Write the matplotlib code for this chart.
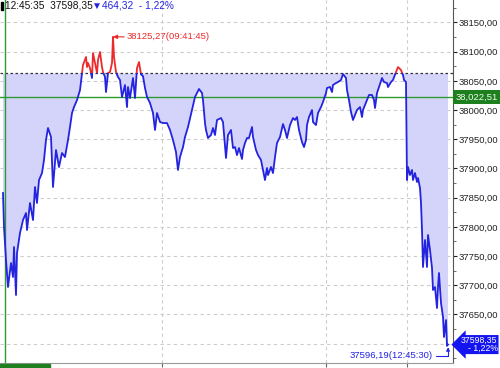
import numpy as np
import matplotlib.pyplot as plt
from matplotlib.patches import Rectangle

plt.rcParams['font.family'] = ['Liberation Sans', 'DejaVu Sans']

prev_close = 38062.67
ref_level = 38022.51
high_tick, high_price, high_time = 113, 38125.27, '09:41:45'
low_tick, low_price, low_time = 447, 37596.19, '12:45:30'
clock = '12:45:35'
last_price, change, change_pct = 37598.35, 464.32, -1.22
grid_ticks = [162, 326, 407]
price_levels = np.arange(37600, 38151, 50)

tick_no = [3, 4, 5, 6, 8, 11, 13, 14, 16, 17, 20, 23, 26, 27, 30, 33, 35, 37, 39, 42,
           44, 46, 48, 51, 53, 56, 59, 62, 65, 68, 70, 72, 74, 77, 80, 82, 83, 86, 87, 88,
           90, 92, 93, 95, 97, 98, 100, 102, 103, 105, 106, 108, 110, 112, 113, 114, 116, 118, 120, 122,
           125, 127, 128, 130, 133, 135, 137, 139, 141, 143, 145, 147, 150, 153, 155, 157, 160, 163, 167, 170,
           173, 176, 178, 180, 183, 185, 188, 192, 195, 199, 202, 203, 205, 206, 208, 211, 213, 215, 217, 221,
           223, 226, 228, 231, 233, 235, 237, 239, 242, 243, 245, 247, 249, 252, 253, 256, 258, 261, 263, 265,
           267, 268, 271, 273, 275, 277, 280, 283, 285, 287, 290, 293, 295, 297, 299, 302, 304, 306, 307, 309,
           312, 313, 316, 318, 321, 323, 326, 327, 330, 332, 333, 336, 338, 341, 343, 346, 347, 349, 351, 353,
           355, 357, 360, 362, 363, 365, 367, 369, 372, 374, 375, 377, 379, 382, 384, 387, 388, 391, 393, 396,
           398, 401, 403, 404, 406, 407, 408, 410, 412, 413, 415, 417, 418, 420, 421, 422, 423, 425, 427, 428,
           430, 432, 433, 435, 437, 438, 439, 441, 443, 444, 446, 447, 448]

price = [37857.9, 37799.7, 37772.3, 37743.2, 37696.9, 37738.0, 37714.0, 37765.4, 37683.2, 37755.1,
         37789.4, 37811.6, 37823.6, 37794.5, 37840.8, 37811.6, 37868.2, 37840.8, 37880.1, 37892.1,
         37914.4, 37948.6, 37969.2, 37953.8, 37868.2, 37931.5, 37902.4, 37926.4, 37919.5, 37948.6,
         37970.9, 37994.9, 38005.1, 38017.1, 38034.2, 38063.4, 38077.1, 38090.8, 38073.6, 38080.5,
         38071.9, 38054.8, 38097.6, 38080.5, 38063.4, 38085.6, 38099.3, 38073.6, 38065.1, 38056.5,
         38030.8, 38063.4, 38065.1, 38080.5, 38125.27, 38090.8, 38065.1, 38056.5, 38051.4, 38022.3,
         38042.8, 38005.1, 38039.4, 38020.5, 38054.8, 38020.5, 38071.9, 38082.2, 38061.0, 38058.0,
         38037.7, 38022.3, 38012.0, 37994.9, 37965.8, 37994.9, 37979.5, 37977.7, 37977.7, 37965.8,
         37948.6, 37928.1, 37897.3, 37919.5, 37936.6, 37953.8, 37970.9, 38000.0, 38022.3, 38036.0,
         38029.1, 38017.1, 37977.7, 37965.8, 37952.1, 37957.2, 37969.2, 37957.2, 37982.9, 37986.3,
         37979.5, 37917.8, 37957.2, 37965.8, 37934.9, 37936.6, 37922.9, 37934.9, 37916.1, 37931.5,
         37943.5, 37952.1, 37952.1, 37970.9, 37953.8, 37931.5, 37922.9, 37914.4, 37897.3, 37880.1,
         37900.7, 37888.7, 37902.4, 37892.1, 37919.5, 37943.5, 37953.8, 37976.0, 37965.8, 37952.1,
         37974.3, 37986.3, 37982.9, 37988.0, 37965.8, 37945.2, 37936.6, 37948.6, 37974.3, 37988.0,
         38000.0, 37979.5, 37974.3, 37994.9, 38005.1, 38013.7, 38029.1, 38037.7, 38039.4, 38030.8,
         38042.8, 38046.2, 38047.9, 38051.4, 38061.5, 38054.8, 38034.2, 38017.1, 37996.6, 37982.9,
         37991.4, 38000.0, 38005.1, 37988.0, 38000.0, 38008.6, 38017.1, 38025.7, 38025.7, 38017.1,
         38003.4, 38029.1, 38039.4, 38054.8, 38047.9, 38046.2, 38039.4, 38047.9, 38051.4, 38065.1,
         38073.6, 38068.5, 38059.9, 38051.4, 38047.9, 37880.1, 37902.4, 37888.7, 37897.3, 37880.1,
         37892.1, 37876.7, 37883.6, 37866.4, 37840.8, 37794.5, 37731.2, 37777.4, 37731.2, 37786.0,
         37760.3, 37729.5, 37691.8, 37696.9, 37661.0, 37696.9, 37720.9, 37669.5, 37645.6, 37611.3,
         37640.4, 37596.19, 37598.35]

BLUE = '#2323e0'
RED = '#ec2a2a'
GREEN = '#2e9a2e'


def fmt(v):
    return f'{v:.2f}'.replace('.', ',')


x = np.array(tick_no)
y = np.array(price)

fig = plt.figure(figsize=(5, 3.68), dpi=100)
ax = fig.add_axes([0, 5 / 368, 453 / 500, 363 / 368])
ax.set_xlim(0, 453)
ax.set_ylim(37566.8, 38188.4)

ax.fill_between(x, y, prev_close, where=y < prev_close, interpolate=True,
                color='#d4d4fa', lw=0, zorder=1)

# blue below previous close, red above it
below = Rectangle((-100, 37000), 1000, prev_close - 37000, transform=ax.transData)
above = Rectangle((-100, prev_close), 1000, 1000, transform=ax.transData)
l1, = ax.plot(x, y, color=BLUE, lw=1.3, zorder=4)
l1.set_clip_path(below)
l2, = ax.plot(x, y, color=RED, lw=1.3, zorder=4)
l2.set_clip_path(above)

ax.axhline(prev_close, color='#333333', ls=(0, (2, 2)), lw=0.9, zorder=3)
ax.axhline(ref_level, color=GREEN, lw=1.0, zorder=3)
ax.axvline(5, color=GREEN, lw=1.0, zorder=3)

ax.set_yticks(price_levels)
ax.set_yticks(np.arange(37575, 38188, 25), minor=True)
ax.set_xticks(grid_ticks)
ax.grid(True, ls=(0, (3, 3)), color='#cccccc', lw=0.8)
ax.set_axisbelow(True)
ax.yaxis.tick_right()
# lowest level label sits under the current-price box
ax.set_yticklabels(['' if v < last_price + 10 else fmt(v) for v in price_levels])
ax.tick_params(axis='y', which='major', length=3, pad=1, labelsize=6.8, colors='#222222')
ax.tick_params(axis='y', which='minor', length=2, colors='#555555')
ax.tick_params(axis='x', length=3, labelbottom=False, colors='#666666')
for s in ['left', 'top']:
    ax.spines[s].set_visible(False)
ax.spines['right'].set_color('#555555')
ax.spines['bottom'].set_color('#999999')

ax.annotate(f'{fmt(high_price)}({high_time})', xy=(high_tick, high_price),
            xytext=(127, high_price), va='center', ha='left', color=RED, fontsize=6.8,
            arrowprops=dict(arrowstyle='-|>', color=RED, lw=0.8, shrinkA=0, shrinkB=0,
                            mutation_scale=6))
ax.annotate(f'{fmt(low_price)}({low_time})', xy=(low_tick + 1, low_price),
            xytext=(433, 37579), va='center', ha='right', color=BLUE, fontsize=6.8,
            arrowprops=dict(arrowstyle='-|>', color=BLUE, lw=0.8, shrinkA=0, shrinkB=1,
                            mutation_scale=5,
                            connectionstyle='angle,angleA=0,angleB=90,rad=0'))

tr = ax.get_yaxis_transform()
ax.text(1.006, ref_level, '38,022,51', transform=tr, ha='left', va='center',
        fontsize=6.8, color='#f0fff0', clip_on=False, zorder=6,
        bbox=dict(boxstyle='square,pad=0.25', fc='#1d7f1d', ec='none'))
ax.text(1.018, last_price, f'{fmt(last_price)}\n- {fmt(abs(change_pct))}%', transform=tr,
        ha='left', va='center', fontsize=6.3, color='white', clip_on=False, zorder=6,
        linespacing=0.9, multialignment='right',
        bbox=dict(boxstyle='larrow,pad=0.1', fc='#1414f0', ec='none'))

fig.text(5 / 500, 1 - 1 / 368, f'{clock}  {fmt(last_price)}', ha='left', va='top',
         fontsize=7.3, color='#111111')
fig.text(92 / 500, 1 - 1 / 368, f'▼{fmt(change)}  - {fmt(abs(change_pct))}%',
         ha='left', va='top', fontsize=7.3, color=BLUE)
fig.add_artist(Rectangle((1 / 500, 358 / 368), 2 / 500, 8 / 368, transform=fig.transFigure,
                         color='black'))
fig.add_artist(Rectangle((0, 0), 50 / 500, 4 / 368, transform=fig.transFigure,
                         color='#1d7f1d'))

fig.savefig('out.png', dpi=100)
